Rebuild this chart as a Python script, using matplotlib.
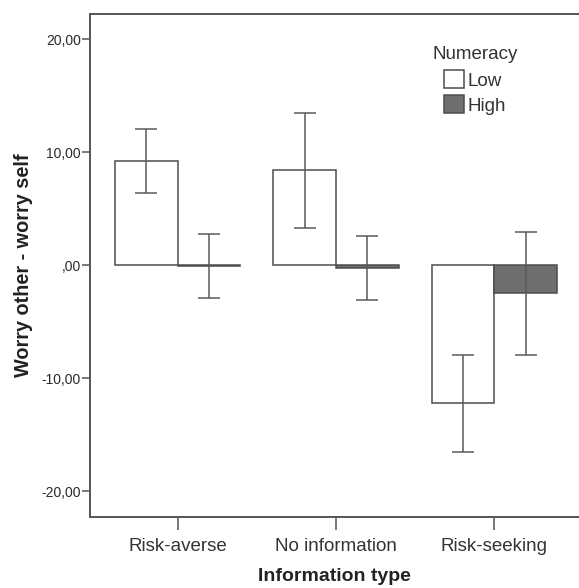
import matplotlib
matplotlib.use("Agg")
import matplotlib.pyplot as plt
from matplotlib.patches import Patch
import numpy as np

categories = ["Risk-averse", "No information", "Risk-seeking"]
groups = ["Low", "High"]
low_means = [9.26, 8.40, -12.22]
low_err = [2.83, 5.08, 4.32]
high_means = [-0.05, -0.25, -2.48]
high_err = [2.85, 2.87, 5.45]
yticks = [-20, -10, 0, 10, 20]
ytick_labels = ["-20,00", "-10,00", ",00", "10,00", "20,00"]

plt.rcParams['font.family'] = ['Liberation Sans', 'DejaVu Sans']

W, H = 579, 588
fig = plt.figure(figsize=(W / 100, H / 100), dpi=100)
ax = fig.add_axes([90 / W, 1 - 516.7 / H, 1 - 90 / W, (516.7 - 14.3) / H])

edge = '#4d4d4d'
ecol = '#5a5a5a'
bw = 0.395
x = np.arange(len(categories))
ax.bar(x - bw / 2, low_means, width=bw, color='white', edgecolor=edge, linewidth=1.1, zorder=2)
ax.bar(x + bw / 2, high_means, width=bw, color='#6f6f6f', edgecolor=edge, linewidth=1.1, zorder=2)
ax.errorbar(x - bw / 2, low_means, yerr=low_err, fmt='none', ecolor=ecol, elinewidth=1.1,
            capsize=8, capthick=1.1, zorder=3)
ax.errorbar(x + bw / 2, high_means, yerr=high_err, fmt='none', ecolor=ecol, elinewidth=1.1,
            capsize=8, capthick=1.1, zorder=3)

ax.set_xlim(-0.554, (579 - 177.7) / 158.3)
ax.set_ylim(-22.25, 22.2)
ax.set_yticks(yticks)
ax.set_yticklabels(ytick_labels, fontsize=10, color='#2a2a2a')
ax.set_xticks(x)
ax.set_xticklabels(categories, fontsize=13.5, color='#333333')
ax.tick_params(axis='y', length=6, width=1.1, color='#555555', pad=0.5)
ax.tick_params(axis='x', length=9, width=1.1, color='#555555', pad=6)

for s in ['left', 'bottom', 'top']:
    ax.spines[s].set_color('#555555')
    ax.spines[s].set_linewidth(1.4)
ax.spines['right'].set_visible(False)

ax.set_xlabel("Information type", fontsize=14, fontweight='bold', color='#222222', labelpad=10)
ax.set_ylabel("Worry other - worry self", fontsize=14.3, fontweight='bold', color='#222222', labelpad=6)

handles = [Patch(facecolor='white', edgecolor=edge, linewidth=1.1),
           Patch(facecolor='#6f6f6f', edgecolor=edge, linewidth=1.1)]
leg = ax.legend(handles, groups, title="Numeracy", loc='upper center',
                bbox_to_anchor=(475 / W, 1 - 37 / H), bbox_transform=fig.transFigure,
                frameon=False, fontsize=13.5, title_fontsize=13.5,
                handlelength=1.05, handleheight=1.1, handletextpad=0.2,
                labelspacing=0.3, borderpad=0)
leg._legend_box.sep = 5
for t in leg.get_texts():
    t.set_color('#333333')
leg.get_title().set_color('#333333')

fig.savefig("out.png", dpi=100)
